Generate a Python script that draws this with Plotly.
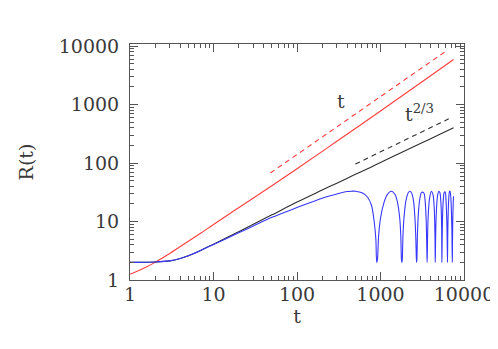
import plotly.graph_objects as go

# ---- data ----
t_red = [1, 1.5, 2, 3, 5, 7, 10, 20, 50, 100, 300, 1000, 3000, 7500]
r_red = [1.25, 1.62, 2.0, 2.85, 4.6, 6.3, 8.9, 17.2, 41, 80, 235, 775, 2330, 5900]

t_black = [1, 2, 3, 4, 5, 7, 10, 20, 30, 50, 100, 200, 300, 500, 700, 1000, 2000, 3000, 5000, 7500]
r_black = [2.0, 2.03, 2.12, 2.33, 2.6, 3.2, 4.1, 6.7, 9.0, 13, 21.5, 34.5, 45.3, 64, 80, 102.5, 164, 215, 303, 400]

t_blue = [1, 2, 3, 4, 5, 7, 10, 15, 20, 30, 50, 100, 200, 300, 400, 450, 500, 600, 700, 780, 840, 880, 900,
          920, 950, 1000, 1100, 1200, 1350, 1500, 1600, 1700, 1750, 1780, 1805,
          1825, 1860, 1920, 2020, 2150, 2250, 2350, 2480, 2590, 2650, 2690, 2710,
          2730, 2770, 2840, 2950, 3100, 3300, 3420, 3520, 3580, 3615,
          3640, 3680, 3760, 3900, 4070, 4250, 4400, 4490, 4525,
          4550, 4600, 4700, 4850, 5000, 5150, 5300, 5400, 5430,
          5455, 5510, 5620, 5800, 5950, 6100, 6250, 6335,
          6360, 6420, 6550, 6700, 6800, 6950, 7150, 7240,
          7265, 7330, 7420, 7500]
r_blue = [2.0, 2.03, 2.12, 2.33, 2.6, 3.2, 4.05, 5.3, 6.4, 8.4, 11.8, 17.3, 25, 29.5, 32.5, 33, 33, 31, 26, 19, 10, 5, 2.0,
          2.3, 5.7, 11.3, 21, 28.6, 33, 28.6, 21, 11.3, 5.7, 2.3, 2.0,
          2.3, 6, 12.5, 23, 31, 33, 31, 23, 11, 5, 2.3, 2.0,
          2.3, 6, 13.5, 24, 31.5, 31, 23, 11, 4, 2.0,
          3, 7.5, 16, 27, 33, 29, 17, 6, 2.0,
          3, 8, 18, 29, 33, 31, 20, 8, 2.0,
          3, 9, 21, 31.5, 32, 22, 8, 2.0,
          3, 9, 23, 32.5, 33, 26, 8, 2.0,
          3, 10, 20, 27]

t_red_dash = [48, 6270]
r_red_dash = [67.5, 8430]
t_black_dash = [500, 6560]
r_black_dash = [96, 569]

x_ticks = [1, 10, 100, 1000, 10000]
x_ticktext = ["1", "10", "100", "1000", "10000"]
y_ticks = [1, 10, 100, 1000, 10000]
y_ticktext = ["1", "10", "100", "1000", "10000"]
minor_ticks = [m * 10 ** k for k in range(0, 4) for m in range(2, 10)]

RED = "rgb(255,60,60)"
BLUE = "rgb(55,55,255)"
BLACK = "rgb(45,45,45)"
AXC = "#555555"
TXT = "#3a3a3a"
FONT = "DejaVu Serif"

fig = go.Figure()
fig.add_trace(go.Scatter(x=t_red, y=r_red, mode="lines",
                         line=dict(color=RED, width=1.1, shape="spline", smoothing=1)))
fig.add_trace(go.Scatter(x=t_black, y=r_black, mode="lines",
                         line=dict(color=BLACK, width=1.1, shape="spline", smoothing=1)))
fig.add_trace(go.Scatter(x=t_blue, y=r_blue, mode="lines",
                         line=dict(color=BLUE, width=1.1, shape="spline", smoothing=0.8)))
fig.add_trace(go.Scatter(x=t_red_dash, y=r_red_dash, mode="lines",
                         line=dict(color=RED, width=1.1, dash="5px,4px")))
fig.add_trace(go.Scatter(x=t_black_dash, y=r_black_dash, mode="lines",
                         line=dict(color=BLACK, width=1.1, dash="5px,4px")))

axis_common = dict(
    type="log", showline=True, linecolor=AXC, linewidth=1, mirror="ticks",
    ticks="inside", ticklen=8, tickcolor=AXC, tickwidth=1,
    showgrid=False, zeroline=False,
    tickfont=dict(family=FONT, size=19, color=TXT),
    minor=dict(ticks="inside", ticklen=4, tickcolor=AXC, tickwidth=1,
               tickmode="array", tickvals=minor_ticks, showgrid=False),
)

fig.update_xaxes(**axis_common, range=[0, 4], tickvals=x_ticks, ticktext=x_ticktext,
                 ticklabelstandoff=-3,
                 title=dict(text="t", font=dict(family=FONT, size=19, color=TXT), standoff=0))
fig.update_yaxes(**axis_common, range=[0, 4.035], tickvals=y_ticks, ticktext=y_ticktext,
                 ticklabelstandoff=6,
                 title=dict(text="R(t)", font=dict(family=FONT, size=19, color=TXT), standoff=20))

fig.add_annotation(x=2.525, y=3.064, xref="x", yref="y", text="t", showarrow=False,
                   font=dict(family=FONT, size=19, color=TXT))
fig.add_annotation(x=3.265, y=2.86, xref="x", yref="y", text="t<sup>2/3</sup>", showarrow=False,
                   xanchor="left", font=dict(family=FONT, size=19, color=TXT))

fig.update_layout(
    width=498, height=349, showlegend=False,
    paper_bgcolor="white", plot_bgcolor="white",
    margin=dict(l=122, r=36, t=36, b=77),
)
fig.write_html("out.html")
